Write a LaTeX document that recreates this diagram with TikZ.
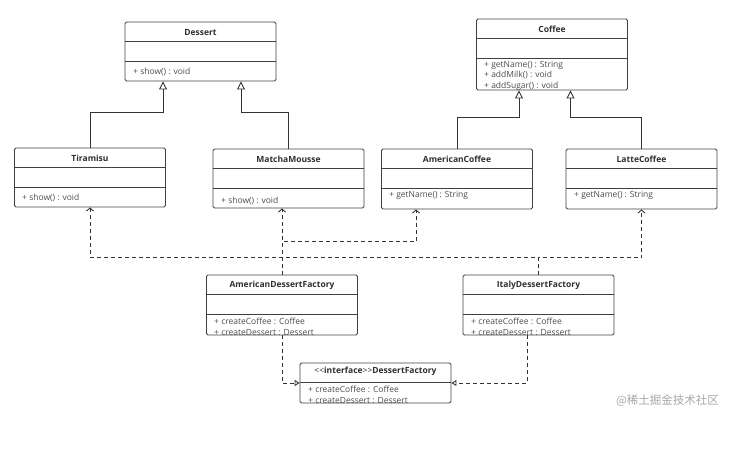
\documentclass[tikz,border=0pt]{standalone}
\usepackage{fontspec}
\setmainfont{Open Sans}
\newfontfamily\cjkfont{Noto Sans CJK SC}
\usetikzlibrary{arrows.meta}

\begin{document}
\begin{tikzpicture}
		[x=1pt,y=-1pt,
		classbox/.style={draw=black!75,line width=0.9pt,rounded corners=1.5pt,minimum width=151,minimum height=60,inner sep=0},
		title/.style={font=\fontsize{8.5}{10}\selectfont\bfseries,text=black!82,inner sep=0},
		methods/.style={font=\fontsize{8.5}{10.5}\selectfont,text=black!70,align=left,anchor=north west,inner sep=0},
		divider/.style={draw=black!75,line width=0.9pt},
		inherit/.style={draw=black!80,line width=0.9pt,-{Triangle[open,length=8pt,width=8pt]}},
		depend/.style={draw=black!80,line width=0.9pt,dash pattern=on 4pt off 3pt,-{Straight Barb[length=3pt,width=7pt]}},
		realize/.style={draw=black!80,line width=0.9pt,dash pattern=on 4pt off 3pt,-{Triangle[open,length=5pt,width=6pt]}}]
		\useasboundingbox (0,0) rectangle (745,458);
		
		\node[classbox,minimum height=59] (dessert) at (200.5,51.5) {};
		\node[classbox,minimum height=59] (tiramisu) at (90,177.5) {};
		\node[classbox,minimum height=59] (matcha) at (288.5,178.5) {};
		
		\node[classbox,minimum height=71] (coffee) at (552,54.5) {};
		\node[classbox] (amcoffee) at (457,179) {};
		\node[classbox] (latte) at (641.5,179) {};
		
		\node[classbox] (amfactory) at (282,305) {};
		\node[classbox] (italy) at (538.5,305) {};
		\node[classbox,minimum height=40] (iface) at (375.5,383) {};
		
		\foreach \c in {dessert,tiramisu,matcha,coffee,amcoffee,latte,amfactory,italy} {
			\draw[divider] ([yshift=-20]\c.north west) -- ([yshift=-20]\c.north east);
			\draw[divider] ([yshift=-40]\c.north west) -- ([yshift=-40]\c.north east);
		}
		\draw[divider] ([yshift=-20]iface.north west) -- ([yshift=-20]iface.north east);
		
		\node[title] (dessertT) at ([yshift=-11]dessert.north) {Dessert};
		\node[title] (tiramisuT) at ([yshift=-11]tiramisu.north) {Tiramisu};
		\node[title] (matchaT) at ([yshift=-11]matcha.north) {MatchaMousse};
		\node[title] (coffeeT) at ([yshift=-10.5]coffee.north) {Coffee};
		\node[title] (amcoffeeT) at ([yshift=-11]amcoffee.north) {AmericanCoffee};
		\node[title] (latteT) at ([yshift=-11]latte.north) {LatteCoffee};
		\node[title] (amfactoryT) at ([yshift=-11]amfactory.north) {AmericanDessertFactory};
		\node[title] (italyT) at ([yshift=-11]italy.north) {ItalyDessertFactory};
		\node[title] (ifaceT) at ([yshift=-8.5]iface.north) {{\mdseries<{}<}interface{\mdseries>{}>}DessertFactory};
		
		\node[methods] (dessertM) at (133,68) {+ show() : void};
		\node[methods] (tiramisuM) at (22,194) {+ show() : void};
		\node[methods] (matchaM) at (221,197) {+ show() : void};
		\node[methods] (coffeeM) at (484,61) {+ getName() : String\\+ addMilk() : void\\+ addSugar() : void};
		\node[methods] (amcoffeeM) at (389,191) {+ getName() : String};
		\node[methods] (latteM) at (574,191) {+ getName() : String};
		\node[methods] (amfactoryM) at (214,318) {+ createCoffee : Coffee\\+ createDessert : Dessert};
		\node[methods] (italyM) at (471,318) {+ createCoffee : Coffee\\+ createDessert : Dessert};
		\node[methods] (ifaceM) at (308,386) {+ createCoffee : Coffee\\+ createDessert : Dessert};
		
		\draw[inherit] (tiramisu.north) -- ++(0,-35) -| ([xshift=-37.5]dessert.south);
		\draw[inherit] (matcha.north) -- ++(0,-36) -| ([xshift=40.5]dessert.south);
		\draw[inherit] (amcoffee.north) -- ++(0,-31) -| ([xshift=-33]coffee.south);
		\draw[inherit] (latte.north) -- ++(0,-31) -| ([xshift=18.5]coffee.south);
		
		\draw[depend] (amfactory.north) -- (matcha.south -| amfactory.north);
		\draw[depend] (amfactory.north) -- ++(0,-33) -| ([xshift=-41]amcoffee.south);
		\draw[depend] (italy.north) -- ++(0,-17) -| (tiramisu.south);
		\draw[depend] (italy.north) -- ++(0,-17) -| (latte.south);
		
		\draw[realize] (amfactory.south) |- (iface.west);
		\draw[realize] ([xshift=-11.5]italy.south) |- (iface.east);
		
		\node[font=\cjkfont\fontsize{11.5}{13}\selectfont,text=black!35] (mark) at (667.5,401) {@稀土掘金技术社区};
		\end{tikzpicture}
\end{document}
